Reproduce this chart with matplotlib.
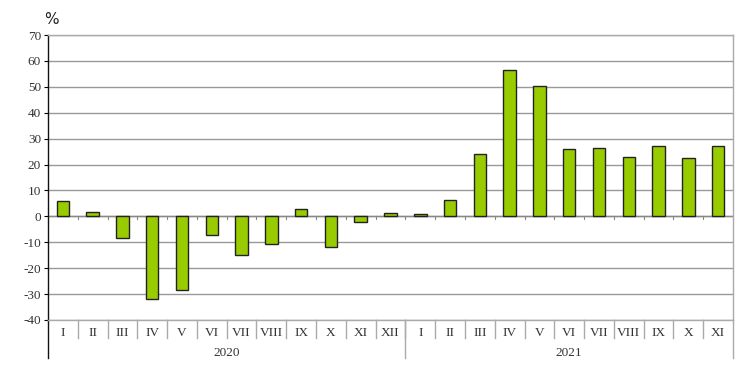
import matplotlib.pyplot as plt
import matplotlib.transforms as mtransforms

months = ["I", "II", "III", "IV", "V", "VI", "VII", "VIII", "IX", "X", "XI", "XII",
          "I", "II", "III", "IV", "V", "VI", "VII", "VIII", "IX", "X", "XI"]
years = ["2020", "2021"]
year_counts = [12, 11]
values = [5.8, 1.8, -8.3, -32.0, -28.6, -7.3, -15.0, -10.5, 2.7, -12.0, -2.3, 1.2,
          1.0, 6.4, 23.9, 56.5, 50.3, 26.1, 26.3, 22.9, 27.2, 22.6, 27.2]
yticks = list(range(-40, 71, 10))

plt.rcParams["font.family"] = ["Liberation Serif", "DejaVu Serif"]

fig = plt.figure(figsize=(7.4, 3.82), dpi=100)
ax = fig.add_axes([48 / 740, 62 / 382, 685 / 740, 285 / 382])

n = len(values)
x = list(range(n))
ax.bar(x, values, width=0.42, color="#99cc00", edgecolor="#222222", linewidth=1.0, zorder=3)

ax.set_xlim(-0.5, n - 0.5)
ax.set_ylim(-40, 70)
ax.set_yticks(yticks)
ax.set_yticklabels([str(t) for t in yticks], fontsize=9.5, color="#333333")
ax.yaxis.grid(True, color="#999999", linewidth=1.0, zorder=0)
ax.set_xticks([])
ax.tick_params(axis="y", length=3, width=0.8, pad=2)

for side in ["top", "right", "bottom"]:
    ax.spines[side].set_color("#aaaaaa")
    ax.spines[side].set_linewidth(1.0)
ax.spines["left"].set_color("#111111")
ax.spines["left"].set_linewidth(1.0)

# zero line with small ticks at category boundaries
ax.axhline(0, color="#888888", linewidth=1.0, zorder=2)
for b in range(1, n):
    ax.plot([b - 0.5, b - 0.5], [0, -1.2], color="#888888", linewidth=0.8, zorder=2)

trans = mtransforms.blended_transform_factory(ax.transData, ax.transAxes)
h = 285.0
month_sep = -18 / h
year_sep = -38 / h

for i, m in enumerate(months):
    ax.text(i, -13 / h, m, transform=trans, ha="center", va="center", fontsize=9.5, color="#333333")
    if i > 0:
        ax.plot([i - 0.5, i - 0.5], [0, month_sep], transform=trans, color="#aaaaaa",
                linewidth=1.0, clip_on=False)

start = 0
for y, c in zip(years, year_counts):
    mid = start + (c - 1) / 2
    ax.text(mid, -33 / h, y, transform=trans, ha="center", va="center", fontsize=9.5, color="#333333")
    start += c
    ax.plot([start - 0.5, start - 0.5], [0, year_sep], transform=trans, color="#aaaaaa",
            linewidth=1.0, clip_on=False)

ax.plot([-0.5, -0.5], [0, year_sep], transform=trans, color="#111111", linewidth=1.0, clip_on=False)

ax.text(-4 / 685, 1 + 15 / h, "%", transform=ax.transAxes, ha="left", va="center", fontsize=11,
        color="#222222", family=["DejaVu Sans"])

fig.savefig("out.png", dpi=100)
